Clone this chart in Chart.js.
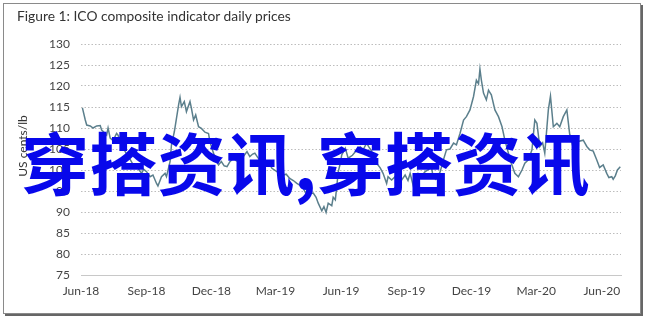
<!DOCTYPE html>
<html>
<head>
<meta charset="utf-8">
<script src="https://cdn.jsdelivr.net/npm/chart.js@4.4.0/dist/chart.umd.min.js"></script>
<style>
  html, body { margin: 0; padding: 0; background: #fff; }
  #wrap { position: relative; width: 645px; height: 318px; overflow: hidden; background: #fff; }
  #frame { position: absolute; left: 3px; top: 3px; width: 636px; height: 309px; border: 1px solid #8a8a8a; box-shadow: 2px 2px 0 #666; }
  #title { position: absolute; left: 17px; top: 7px; font-family: Lato, "Open Sans", sans-serif; font-size: 13.8px; color: #333; white-space: nowrap; }
  #ytitle { position: absolute; left: 22px; top: 146px; transform: translate(-50%, -50%) rotate(-90deg); font-family: Lato, sans-serif; font-size: 12px; color: #333; white-space: nowrap; }
  #mark { position: absolute; left: 21px; top: 127px; font-family: "Noto Sans CJK SC", sans-serif; font-weight: bold; font-size: 68.3px; line-height: 68px; color: rgb(8,8,235); white-space: nowrap; }
  canvas { position: absolute; left: 0; top: 0; }
</style>
</head>
<body>
<div id="wrap">
  <div id="frame"></div>
  <canvas id="c" width="645" height="318"></canvas>
  <div id="title">Figure 1: ICO composite indicator daily prices</div>
  <div id="ytitle">US cents/lb</div>
  <div id="mark">穿搭资讯,穿搭资讯</div>
</div>
<script>
// Days since 2018-06-01
const startDate = '2018-06-01';
const dayOffsets = [2,6,8,13,17,22,27,29,34,36,38,41,45,50,52,56,60,65,69,74,
  80,85,88,92,97,101,106,108,113,118,120,125,127,131,134,137,139,141,145,148,
  153,155,158,161,165,169,174,179,181,185,189,193,197,201,205,209,214,218,223,227,
  233,237,241,244,248,251,258,263,268,275,279,284,288,293,298,303,307,312,317,321,
  326,330,333,338,341,344,347,352,354,357,359,361,364,366,371,375,381,386,392,396,
  401,404,408,410,415,420,424,429,431,436,441,445,450,455,459,462,466,469,473,478,
  483,487,492,494,498,504,508,513,518,523,527,532,537,541,546,551,555,558,560,562,
  565,569,572,573,576,581,586,591,595,600,604,609,614,619,623,628,633,637,640,644,
  648,651,656,659,663,668,672,677,682,686,691,698,705,710,714,719,724,728,733,738,
  741,745,747,750,753,757];
const prices = [114.8,111.9,110.7,110.5,110.0,110.5,110.6,109.5,108.7,108.3,110.0,107.6,107.0,108.7,108.3,106.5,105.0,103.5,102.5,101.0,
  100.4,99.2,100.2,99.6,98.4,98.8,96.8,96.2,98.4,99.2,98.4,102.0,106.0,109.1,112.3,115.5,117.3,115.1,116.3,113.9,
  116.3,114.7,111.9,113.1,110.3,109.9,109.0,108.7,106.7,104.5,102.5,101.2,102.0,101.0,100.8,102.0,102.8,102.2,103.6,103.0,
  104.4,103.2,103.8,104.0,103.0,102.4,101.2,102.0,100.4,99.6,99.9,98.8,99.0,98.0,97.5,96.8,96.4,95.6,94.0,94.4,
  94.5,93.5,92.1,90.3,91.3,89.9,92.1,91.5,93.5,92.9,96.0,99.5,101.6,103.6,105.2,102.8,103.5,104.5,105.5,104.8,
  106.4,105.5,104.5,102.4,101.6,100.5,99.2,96.8,98.4,97.6,98.4,96.0,97.6,98.8,97.5,99.2,96.5,98.5,99.2,98.5,
  99.6,100.0,100.8,98.5,97.8,99.5,102.0,104.8,105.0,106.4,106.0,108.7,111.9,112.7,114.3,117.5,121.4,120.5,124.0,121.4,
  118.3,116.7,119.0,118.7,117.9,114.3,112.7,110.3,107.1,104.0,101.6,99.2,98.4,100.0,101.6,102.4,104.8,111.9,111.1,105.6,
  106.5,104.0,114.3,117.6,110.3,111.1,110.3,112.7,114.3,108.5,105.2,106.8,107.1,105.6,104.8,104.5,102.4,100.6,101.2,99.2,
  98.2,98.4,97.8,98.6,100.0,100.8];
const tickDates = ['2018-06-01','2018-09-01','2018-12-01','2019-03-01','2019-06-01','2019-09-01','2019-12-01','2020-03-01','2020-06-01'];
const tickLabels = ['Jun-18','Sep-18','Dec-18','Mar-19','Jun-19','Sep-19','Dec-19','Mar-20','Jun-20'];
const yTicks = [75,80,85,90,95,100,105,110,115,120,125,130];

const dayMs = 86400000;
const t0 = Date.parse(startDate + 'T00:00:00Z');
const tickDays = tickDates.map(d => Math.round((Date.parse(d + 'T00:00:00Z') - t0) / dayMs));
const points = dayOffsets.map((d, i) => ({ x: d, y: prices[i] }));

new Chart(document.getElementById('c'), {
  type: 'line',
  data: { datasets: [{ data: points, borderColor: '#5b7f8c', borderWidth: 1.5, pointRadius: 0, tension: 0, fill: false }] },
  options: {
    responsive: false, animation: false, events: [],
    layout: { padding: { left: 0, right: 24, top: 44, bottom: 0 } },
    plugins: { legend: { display: false }, tooltip: { enabled: false } },
    scales: {
      x: {
        type: 'linear', min: 0, max: 758,
        afterBuildTicks: s => { s.ticks = tickDays.map(v => ({ value: v })); },
        afterFit: s => { s.height = 43; },
        grid: { display: false, drawTicks: false },
        border: { display: true, color: '#c8c8c8', width: 1 },
        ticks: { padding: 9, maxRotation: 0, autoSkip: false, color: '#444', font: { family: 'Lato', size: 12 },
          callback: v => { const i = tickDays.indexOf(v); return i >= 0 ? tickLabels[i] : ''; } }
      },
      y: {
        min: 75, max: 130,
        afterBuildTicks: s => { s.ticks = yTicks.map(v => ({ value: v })); },
        afterFit: s => { s.width = 81; },
        grid: { color: '#bdbdbd', lineWidth: 1, drawTicks: false },
        border: { display: false, dash: [1.5, 2] },
        ticks: { padding: 11, color: '#444', font: { family: 'Lato', size: 12 } }
      }
    }
  }
});
</script>
</body>
</html>
